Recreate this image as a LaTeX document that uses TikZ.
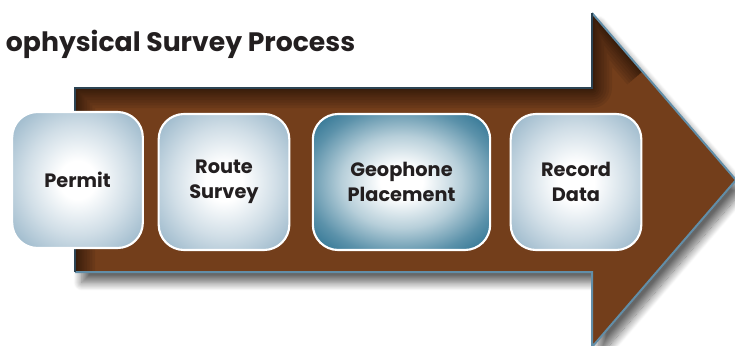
\documentclass[tikz,border=0pt]{standalone}
\usepackage{fontspec}
\setmainfont{Poppins}
\usetikzlibrary{shadows.blur,calc}

\definecolor{arrowbrown}{RGB}{115,62,27}
\definecolor{arrowedge}{RGB}{98,142,168}
\definecolor{arrowdark}{RGB}{44,68,84}
\definecolor{stepink}{RGB}{35,31,32}
\definecolor{boxblue}{RGB}{100,145,174}
\definecolor{boxteal}{RGB}{14,94,130}

\pgfdeclareradialshading{stepglow}{\pgfpoint{0bp}{0bp}}{color(0bp)=(white); color(7bp)=(white); color(20bp)=(boxblue!30!white); color(32bp)=(boxblue!62!white); color(42bp)=(boxblue!88!white); color(50bp)=(boxblue)}
\pgfdeclareradialshading{stepglowdark}{\pgfpoint{0bp}{0bp}}{color(0bp)=(white); color(6bp)=(white); color(17bp)=(boxteal!30!white); color(27bp)=(boxteal!68!white); color(36bp)=(boxteal!92!white); color(50bp)=(boxteal)}

\tikzset{every picture/.style={line width=0.75pt}}
\tikzset{
  stepbox/.style={draw=white, line width=1.6pt, rounded corners=19pt, shading=stepglow,
    minimum width=98pt, minimum height=102pt, align=center, text=stepink,
    font=\bfseries\fontsize{14.5}{19}\selectfont},
  stepboxwide/.style={stepbox, shading=stepglowdark, minimum width=133pt},
  titletext/.style={text=stepink, font=\bfseries\fontsize{20}{26}\selectfont}
}

\begin{document}
\begin{tikzpicture}[x=0.75pt,y=0.75pt,yscale=-1,xscale=1]
	\useasboundingbox (0,0) rectangle (735,346);
	\clip (0,0) rectangle (735,346);

	%Shape: Arrow [id:shaft and head]
	\coordinate (tailtop) at (75,88);
	\coordinate (necktop) at (592,88);
	\coordinate (headtop) at (592,13);
	\coordinate (tip) at (736,180);
	\coordinate (headbot) at (592,347);
	\coordinate (neckbot) at (592,272);
	\coordinate (tailbot) at (75,272);
	\fill [arrowbrown, blur shadow={shadow xshift=5pt, shadow yshift=-8pt, shadow blur steps=14, shadow blur radius=6pt, shadow opacity=60}]
		(tailtop) -- (necktop) -- (headtop) -- (tip) -- (headbot) -- (neckbot) -- (tailbot) -- cycle ;
	%inner shadow along top and left edges
	\begin{scope}
		\clip (tailtop) -- (necktop) -- (headtop) -- (tip) -- (headbot) -- (neckbot) -- (tailbot) -- cycle ;
		\foreach \w in {30,26,22,18,14,11,8,5,3} {
			\draw [black, opacity=0.07, line width=\w pt, line join=round] (tailbot) -- (tailtop) -- (necktop) -- (headtop) -- ($(headtop)!0.35!(tip)$) ;
		}
	\end{scope}
	%Edges of the arrow
	\draw [arrowedge, line width=1.5pt, line join=miter] (headtop) -- (tip) -- (headbot) -- (neckbot) -- (tailbot) ;
	\draw [arrowdark, line width=1.5pt, line join=miter] (tailbot) -- (tailtop) -- (necktop) -- (headtop) ;

	% Step Nodes
	\node [stepbox] (permit) at (77.5,180) {Permit};
	\node [stepbox] (route) at (224,182) {Route\\Survey};
	\node [stepboxwide] (geophone) at (401.5,182) {Geophone\\Placement};
	\node [stepbox] (record) at (576,182) {Record\\Data};

	% Text Node
	\node [titletext, anchor=base west] (title) at (1,52) {ophysical Survey Process};

\end{tikzpicture}
\end{document}
